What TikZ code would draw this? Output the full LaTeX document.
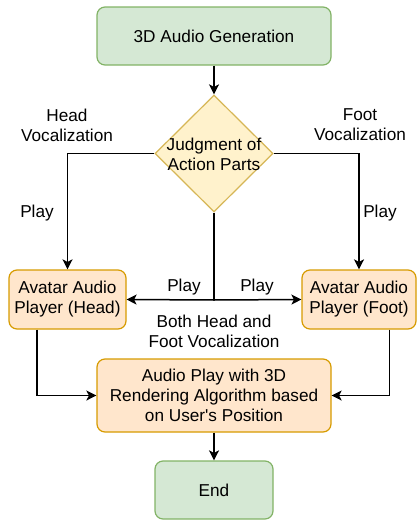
\documentclass[tikz,border=0pt]{standalone}
\usepackage{fontspec}
\setmainfont{Liberation Sans}[Ligatures=TeXOff]
\usetikzlibrary{shapes.geometric,arrows.meta,calc}
\definecolor{gfill}{HTML}{D5E8D4}
\definecolor{gline}{HTML}{82B366}
\definecolor{ofill}{HTML}{FFE6CC}
\definecolor{oline}{HTML}{D79B00}
\definecolor{yfill}{HTML}{FFF2CC}
\definecolor{yline}{HTML}{D6B656}
\tikzset{
  box/.style={rectangle, rounded corners=8pt, line width=1.2pt, inner sep=0pt, align=center, font=\fontsize{17.2}{20}\selectfont},
  gbox/.style={box, draw=gline, fill=gfill},
  obox/.style={box, draw=oline, fill=ofill},
  lbl/.style={inner sep=0pt, align=center, font=\fontsize{17.2}{20}\selectfont},
  arr/.style={line width=1.5pt, -{Stealth[length=10pt,width=10pt,inset=2.5pt]}},
  ln/.style={line width=1.5pt}
}
\begin{document}
\begin{tikzpicture}[x=1pt,y=-1pt]
\useasboundingbox (0,0) rectangle (417,522);
\node[gbox, minimum width=234pt, minimum height=58pt] (top) at (214,36) {3D Audio Generation};
\node[diamond, draw=yline, fill=yfill, line width=1.2pt, minimum width=118pt, minimum height=117pt, inner sep=0pt] (dia) at (214,153.5) {};
\node[lbl] (diat) at (214,154) {Judgment of\\Action Parts};
\node[obox, minimum width=117pt, minimum height=59pt] (head) at (67.5,299.5) {Avatar Audio\\Player (Head)};
\node[obox, minimum width=114pt, minimum height=59pt] (foot) at (359,299.5) {Avatar Audio\\Player (Foot)};
\node[obox, minimum width=234pt, minimum height=73pt] (play) at (214,395.5) {Audio Play with 3D\\Rendering Algorithm based\\on User's Position};
\node[gbox, minimum width=118pt, minimum height=58pt] (end) at (214,490) {End};
\coordinate (j) at (214,300);

\node[lbl] (lhv) at (67,125) {Head\\Vocalization};
\node[lbl] (lfv) at (360,125) {Foot\\Vocalization};
\node[lbl] (lpl) at (37,213) {Play};
\node[lbl] (lpr) at (380,213) {Play};
\node[lbl] (lpm1) at (184,287) {Play};
\node[lbl] (lpm2) at (257,287) {Play};
\node[lbl] (lboth) at (214,331) {Both Head and\\Foot Vocalization};

\draw[arr] (top.south) -- (dia.north);
\draw[arr] (dia.west) -| (head.north);
\draw[arr] (dia.east) -| (foot.north);
\draw[ln] (dia.south) -- (j);
\draw[arr] (j) -- (head.east);
\draw[arr] (j) -- (foot.west);
\draw[arr] ($(head.south west)+(28.5,0)$) |- (play.west);
\draw[arr] ($(foot.south east)+(-27,0)$) |- (play.east);
\draw[arr] (play.south) -- (end.north);
\end{tikzpicture}
\end{document}
